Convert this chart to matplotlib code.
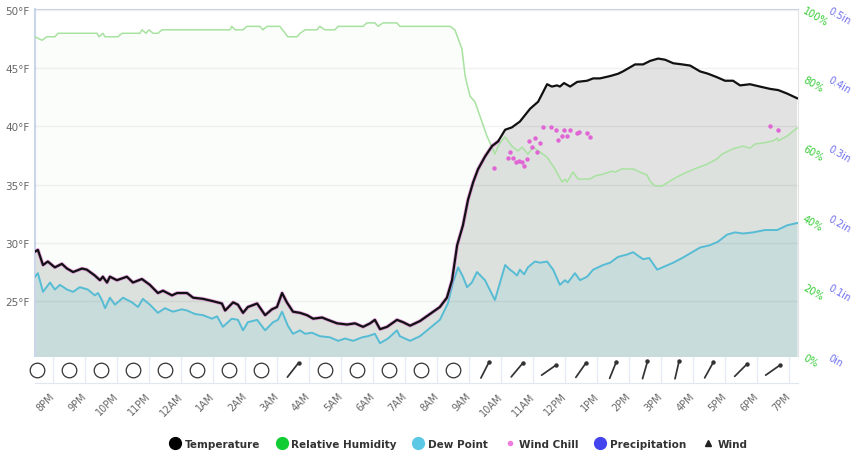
import numpy as np
import matplotlib.pyplot as plt
from matplotlib.lines import Line2D

# hours after 8PM
temp_t = [-0.56, -0.47, -0.31, -0.16, 0.06, 0.28, 0.44, 0.63, 0.91, 1.06, 1.31, 1.47, 1.56, 1.69, 1.78,
          2.0, 2.31, 2.5, 2.78, 3.03, 3.28, 3.44, 3.72, 3.88, 4.19, 4.38, 4.69, 5.0, 5.28, 5.38, 5.63,
          5.78, 5.94, 6.09, 6.38, 6.63, 6.84, 7.0, 7.16, 7.31, 7.5, 7.72, 7.94, 8.13, 8.41, 8.59, 8.88,
          9.19, 9.44, 9.69, 9.91, 10.06, 10.22, 10.44, 10.75, 10.94, 11.16, 11.47, 11.78, 12.09, 12.31,
          12.47, 12.63, 12.81, 12.97, 13.13, 13.28, 13.5, 13.72, 13.91, 14.13, 14.34, 14.59, 14.91,
          15.16, 15.31, 15.44, 15.59, 15.75, 15.84, 15.97, 16.16, 16.38, 16.69, 16.88, 17.09, 17.41,
          17.66, 17.81, 18.19, 18.44, 18.66, 18.91, 19.13, 19.38, 19.66, 19.91, 20.22, 20.47, 20.75,
          21.0, 21.25, 21.47, 21.78, 22.09, 22.41, 22.66, 22.94, 23.25]
temp_f = [29.25, 29.4, 28.1, 28.4, 27.9, 28.2, 27.8, 27.5, 27.8, 27.7, 27.2, 26.8, 27.1, 26.6, 27.1,
          26.8, 27.1, 26.6, 26.9, 26.4, 25.7, 25.9, 25.5, 25.7, 25.7, 25.3, 25.2, 25.0, 24.8, 24.2, 24.9,
          24.7, 24.0, 24.5, 24.8, 23.8, 24.3, 24.5, 25.7, 24.9, 24.1, 24.0, 23.8, 23.5, 23.6, 23.4, 23.1,
          23.0, 23.1, 22.8, 23.1, 23.4, 22.6, 22.8, 23.4, 23.2, 22.9, 23.3, 23.9, 24.5, 25.3,
          26.8, 29.8, 31.5, 33.7, 35.2, 36.3, 37.4, 38.3, 38.7, 39.7, 39.9, 40.4, 41.5,
          42.1, 42.9, 43.6, 43.4, 43.5, 43.4, 43.7, 43.4, 43.8, 43.9, 44.1, 44.1, 44.3,
          44.5, 44.7, 45.3, 45.3, 45.6, 45.8, 45.7, 45.4, 45.3, 45.2, 44.7, 44.5, 44.2,
          43.9, 43.9, 43.5, 43.6, 43.4, 43.2, 43.1, 42.8, 42.4]

dew_t = [-0.56, -0.47, -0.31, -0.09, 0.06, 0.22, 0.44, 0.63, 0.84, 1.09, 1.31, 1.41, 1.53, 1.63, 1.78,
         1.94, 2.19, 2.47, 2.66, 2.81, 3.03, 3.28, 3.5, 3.75, 4.03, 4.19, 4.44, 4.69, 4.97, 5.13, 5.31,
         5.59, 5.78, 5.94, 6.09, 6.38, 6.63, 6.88, 7.03, 7.16, 7.34, 7.5, 7.72, 7.88, 8.09, 8.34, 8.66,
         8.91, 9.13, 9.38, 9.66, 9.84, 10.06, 10.22, 10.47, 10.75, 10.84, 11.16, 11.47, 11.78, 12.09,
         12.34, 12.5, 12.66, 12.81, 12.94, 13.09, 13.25, 13.5, 13.81, 13.97, 14.13, 14.28, 14.38, 14.5,
         14.59, 14.72, 14.84, 15.06, 15.22, 15.44, 15.63, 15.84, 16.0, 16.09, 16.31, 16.47, 16.69,
         16.88, 17.19, 17.41, 17.66, 17.94, 18.13, 18.28, 18.44, 18.63, 18.88, 19.13, 19.38, 19.66,
         19.91, 20.22, 20.53, 20.78, 21.06, 21.31, 21.56, 21.88, 22.25, 22.63, 22.94, 23.25]
dew_f = [27.1, 27.4, 25.8, 26.6, 26.0, 26.4, 26.0, 25.8, 26.2, 26.0, 25.5, 25.7, 25.1, 24.4, 25.3,
         24.7, 25.3, 24.9, 24.5, 25.2, 24.7, 24.0, 24.4, 24.1, 24.3, 24.2, 23.9, 23.8, 23.5, 23.7, 22.8,
         23.5, 23.4, 22.5, 23.2, 23.4, 22.5, 23.2, 23.4, 24.1, 22.9, 22.2, 22.5, 22.2, 22.3, 22.0, 21.9,
         21.6, 21.8, 21.6, 21.9, 22.0, 22.2, 21.4, 21.8, 22.5, 22.0, 21.6, 22.0, 22.7, 23.4,
         24.8, 26.6, 27.9, 27.1, 26.2, 26.6, 27.5, 26.8, 25.1, 26.6, 28.1, 27.7, 27.5, 27.2,
         27.7, 27.3, 27.9, 28.4, 28.3, 28.4, 27.7, 26.4, 26.8, 26.6, 27.4, 26.8, 27.1,
         27.7, 28.1, 28.3, 28.8, 29.0, 29.2, 28.9, 28.6, 28.7, 27.7, 28.0, 28.3, 28.7,
         29.1, 29.6, 29.8, 30.1, 30.7, 30.9, 30.8, 30.9, 31.1, 31.1, 31.5, 31.7]

rh_t = [-0.56, -0.34, -0.19, 0.06, 0.16, 1.38, 1.44, 1.56, 1.63, 2.03, 2.16, 2.72, 2.78, 2.91, 3.0,
        3.13, 3.28, 3.41, 5.53, 5.59, 5.69, 5.94, 6.06, 6.47, 6.56, 6.69, 7.09, 7.34, 7.63, 7.72, 7.88,
        8.25, 8.34, 8.5, 8.81, 8.91, 9.69, 9.81, 10.06, 10.16, 10.31, 10.75, 10.84, 12.41, 12.56,
        12.78, 12.88, 13.03, 13.19, 13.34, 13.56, 13.72, 13.81, 13.91, 14.06, 14.13, 14.34, 14.53,
        14.66, 14.84, 15.0, 15.22, 15.44, 15.69, 15.91, 16.0, 16.06, 16.25, 16.41, 16.78, 16.94,
        17.19, 17.47, 17.56, 17.78, 18.13, 18.34, 18.56, 18.66, 18.81, 19.03, 19.28, 19.5, 19.81,
        20.13, 20.44, 20.75, 20.91, 21.25, 21.56, 21.78, 21.94, 22.19, 22.5, 22.63, 22.66, 22.94, 23.25]
rh_pct = [92, 91, 92, 92, 93, 93, 92, 93, 92, 92, 93, 93, 94, 93, 94,
          93, 93, 94, 94, 95, 94, 94, 95, 95, 94, 95, 95, 92, 92, 93, 94,
          94, 95, 94, 94, 95, 95, 96, 96, 95, 96, 96, 95, 95, 94,
          88.5, 80.7, 74.9, 73.2, 69.2, 63.4, 60.2, 58.2, 60.5, 62.5, 63.1, 60.5, 59.1,
          60.2, 58.2, 60.2, 58.8, 57.3, 53.9, 50.1, 51.0, 50.1, 53.0, 51.0, 51.0, 51.9,
          52.4, 53.3, 53.0, 53.9, 53.9, 53.0, 52.2, 50.4, 49.0, 49.0, 50.4, 51.6, 53.0,
          54.2, 55.3, 56.8, 58.2, 59.7, 60.5, 59.9, 61.1, 61.4, 62.0, 62.8, 62.0, 63.4, 65.7]

chill_t = [13.78, 14.22, 14.28, 14.38, 14.47, 14.56, 14.66, 14.72, 14.81, 14.88, 14.97, 15.06, 15.13,
           15.22, 15.31, 15.56, 15.72, 15.78, 15.91, 15.97, 16.06, 16.16, 16.38, 16.44, 16.69, 16.78,
           22.41, 22.66]
chill_f = [36.4, 37.3, 37.8, 37.3, 36.9, 37.0, 36.9, 36.6, 37.2, 38.7, 38.2, 39.0, 37.8,
           38.6, 39.9, 39.9, 39.7, 38.8, 39.2, 39.7, 39.2, 39.7, 39.4, 39.5, 39.4, 39.1,
           40.0, 39.7]

hour_labels = ["8PM", "9PM", "10PM", "11PM", "12AM", "1AM", "2AM", "3AM", "4AM", "5AM", "6AM", "7AM",
               "8AM", "9AM", "10AM", "11AM", "12PM", "1PM", "2PM", "3PM", "4PM", "5PM", "6PM", "7PM"]
# wind symbol per hour cell (angle of arrow in degrees, None = calm)
wind_t = [h - 0.5 for h in range(24)]
wind_ang = [None, None, None, None, None, None, None, None, 52, None, None, None, None, None,
            63, 50, 35, 55, 68, 74, 77, 61, 45, 35]

x0, x1 = -0.56, 23.28
W, H = 866, 456

fig = plt.figure(figsize=(W / 100, H / 100), dpi=100)
ax = fig.add_axes([35 / W, 1 - 357 / H, 763 / W, 347 / H])
ax2 = ax.twinx()
ax3 = ax.twinx()
ax.set_xlim(x0, x1)
ax.set_ylim(20.3, 50.05)
ax2.set_ylim(0, 100)
ax3.set_ylim(0, 0.5)

# fills
ax.fill_between(temp_t, temp_f, 0, color='#e2e2e2', zorder=1, lw=0)
ax.fill_between(rh_t, rh_pct, 0, transform=ax2.transData, color='#33bb33', alpha=0.025, zorder=1.5, lw=0)
ax.fill_between(dew_t, dew_f, 0, color='#c9dcdc', zorder=2, lw=0)

# lines
ax.plot(rh_t, rh_pct, transform=ax2.transData, color='#a8e2a0', lw=1.1, zorder=3)
ax.plot(dew_t, dew_f, color='#56bcd4', lw=1.4, zorder=4)
early = [(t, f) for t, f in zip(temp_t, temp_f) if t <= 14.1]
ax.plot([p[0] for p in early], [p[1] for p in early], color='#e070d8', lw=2.7, alpha=0.6, zorder=4.5)
ax.plot(temp_t, temp_f, color='#111111', lw=1.6, zorder=5)
ax.plot(chill_t, chill_f, 'o', color='#e066d6', ms=3.2, mew=0, zorder=6)

# axes styling
ax.set_yticks([25, 30, 35, 40, 45, 50])
ax.set_yticklabels([f"{v}°F" for v in [25, 30, 35, 40, 45, 50]], fontsize=7.5, color='#666666')
ax.yaxis.grid(True, color='black', alpha=0.05, lw=1)
ax.set_axisbelow(False)
ax.tick_params(axis='y', length=0, pad=4)
ax.set_xticks([])
ax.spines['left'].set_color('#ccd6eb')
ax.spines['left'].set_linewidth(1.5)
ax.spines['top'].set_color('#ccd6eb')
ax.spines['right'].set_color('#e3e3e3')
ax.spines['bottom'].set_visible(False)

for a in (ax2, ax3):
    for s in a.spines.values():
        s.set_visible(False)
    a.tick_params(axis='y', length=0)
ax2.set_yticks([0, 20, 40, 60, 80, 100])
ax2.set_yticklabels([f"{v}%" for v in [0, 20, 40, 60, 80, 100]], fontsize=7, color='#33cc33',
                    rotation=-30, ha='left', va='center', rotation_mode='anchor')
ax2.tick_params(axis='y', pad=4)
ax3.spines['right'].set_position(('outward', 18))
ax3.set_yticks([0, 0.1, 0.2, 0.3, 0.4, 0.5])
ax3.set_yticklabels(["0in", "0.1in", "0.2in", "0.3in", "0.4in", "0.5in"], fontsize=7, color='#7070f0',
                    rotation=-30, ha='left', va='center', rotation_mode='anchor')
ax3.tick_params(axis='y', pad=4)

# wind row
wax = fig.add_axes([35 / W, 1 - 384 / H, 763 / W, 26 / H])
wax.set_xlim(x0, x1)
wax.set_ylim(0, 1)
wax.set_xticks(range(24))
wax.set_xticklabels(hour_labels, rotation=45, ha='right', va='center', rotation_mode='anchor',
                    fontsize=7, color='#666666')
wax.tick_params(axis='x', length=0, pad=8)
wax.set_yticks([])
wax.grid(axis='x', color='#e6ebf5', lw=1)
for s in ('left', 'top', 'right'):
    wax.spines[s].set_visible(False)
wax.spines['bottom'].set_color('#e0e6f2')

calm = [t for t, a in zip(wind_t, wind_ang) if a is None]
wax.plot(calm, [0.5] * len(calm), 'o', mfc='none', mec='#333333', ms=10.5, mew=0.9, clip_on=False)
pxh = 763 / (x1 - x0)
pxv = 26.0
for t, a in zip(wind_t, wind_ang):
    if a is None:
        continue
    dx = 9 * np.cos(np.radians(a)) / pxh
    dy = 9 * np.sin(np.radians(a)) / pxv
    wax.plot([t - dx, t + dx], [0.5 - dy, 0.5 + dy], color='#333333', lw=1.25, solid_capstyle='round')
    wax.plot([t + dx], [0.5 + dy], 'o', color='#333333', ms=3.2, mew=0)

# legend
handles = [
    Line2D([], [], marker='o', ls='none', color='black', ms=8.5),
    Line2D([], [], marker='o', ls='none', color='#11cc33', ms=8.5),
    Line2D([], [], marker='o', ls='none', color='#5bc8e6', ms=8.5),
    Line2D([], [], marker='o', ls='none', color='#f07ee0', ms=3),
    Line2D([], [], marker='o', ls='none', color='#4444ee', ms=8.5),
    Line2D([], [], marker='^', ls='none', color='#222222', ms=5),
]
labels = ["Temperature", "Relative Humidity", "Dew Point", "Wind Chill", "Precipitation", "Wind"]
leg = fig.legend(handles, labels, loc='center', bbox_to_anchor=(458 / W, 1 - 445 / H), ncol=6,
                 frameon=False, prop={'weight': 'bold', 'size': 7.5}, handletextpad=0.3,
                 columnspacing=1.5, handlelength=1.2)
for txt in leg.get_texts():
    txt.set_color('#333333')

fig.savefig('out.png', dpi=100)
